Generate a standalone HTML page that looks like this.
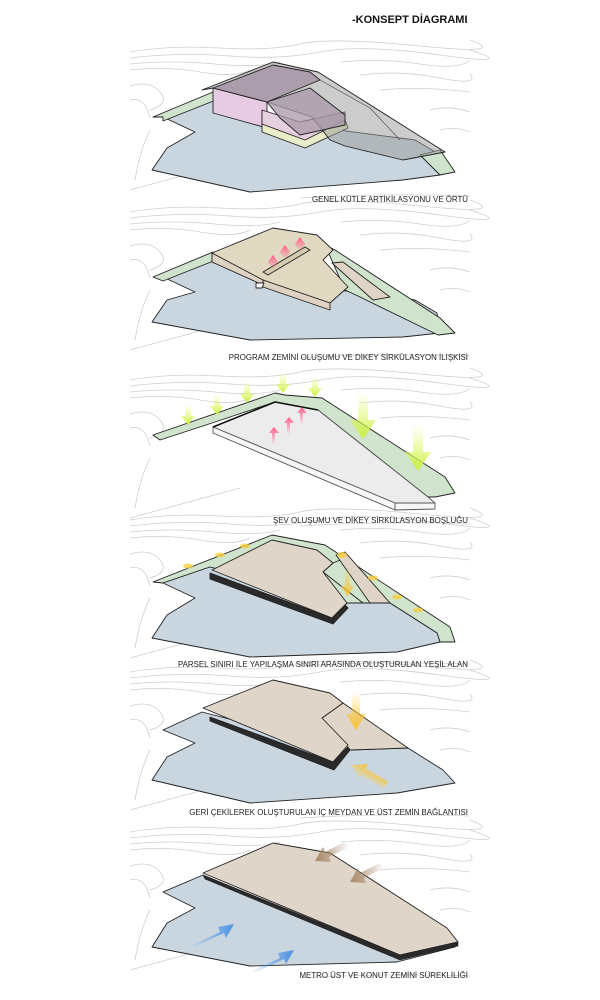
<!DOCTYPE html>
<html><head><meta charset="utf-8"><style>
html,body{margin:0;padding:0;background:#fff}
svg{display:block}
text{font-family:"Liberation Sans","DejaVu Sans",sans-serif;fill:#222}
</style></head><body>
<svg width="600" height="1000" viewBox="0 0 600 1000" xmlns="http://www.w3.org/2000/svg">
<defs>
<linearGradient id="gy" x1="0" y1="0" x2="0" y2="1"><stop offset="0" stop-color="#e8ff70" stop-opacity="0"/><stop offset="1" stop-color="#c8f040"/></linearGradient>
<linearGradient id="gp" x1="0" y1="1" x2="0" y2="0"><stop offset="0" stop-color="#ff6f95" stop-opacity="0"/><stop offset="1" stop-color="#ff5a85"/></linearGradient>
<linearGradient id="go" x1="0" y1="0" x2="0" y2="1"><stop offset="0" stop-color="#ffd040" stop-opacity="0"/><stop offset="1" stop-color="#f8c030"/></linearGradient>
<linearGradient id="gb" x1="0" y1="0" x2="1" y2="0"><stop offset="0" stop-color="#5aa0e8" stop-opacity="0"/><stop offset="1" stop-color="#4a90e2"/></linearGradient>
<linearGradient id="gr" x1="1" y1="0" x2="0" y2="0"><stop offset="0" stop-color="#a08060" stop-opacity="0"/><stop offset="1" stop-color="#a88a6a"/></linearGradient>
<g id="c" fill="none" stroke="#cfcfcf" stroke-width="0.8">
<path d="M130 52 Q170 45 220 48 T300 44 T420 46 T470 40"/>
<path d="M130 58 Q180 52 230 56 T320 52 T440 55 T470 50"/>
<path d="M130 64 Q170 60 215 64 T280 62"/>
<path d="M130 70 Q165 66 200 72 T250 70"/>
<path d="M340 62 Q380 58 420 64 T470 60"/>
<path d="M360 75 Q400 70 440 78 T470 74"/>
<path d="M380 90 Q420 86 470 92"/>
<path d="M130 86 Q150 80 160 92 T150 110"/>
<path d="M130 100 Q145 96 150 118"/>
<path d="M430 110 Q450 105 470 112"/>
<path d="M440 130 Q455 126 470 132"/>
<path d="M130 190 L240 160"/>
<path d="M135 180 Q140 150 150 130"/>
<path d="M300 198 Q380 193 470 196"/>
</g>
</defs>
<text x="352" y="23" font-size="11" font-weight="bold" style="fill:#111">-KONSEPT DİAGRAMI</text>

<use href="#c"/>
<use href="#c" transform="translate(0,160)"/>
<use href="#c" transform="translate(0,328)"/>
<use href="#c" transform="translate(0,468)"/>
<use href="#c" transform="translate(0,620)"/>
<use href="#c" transform="translate(0,780)"/>

<g stroke="#222" stroke-width="0.9" stroke-linejoin="round">
<!-- Panel 1 -->
<polygon points="163,117 213,97 300,125 415,140 437,153 440,175 403,180 250,192 152,170 167,148 195,132" fill="#c9d6df"/>
<polygon points="153,117 213,92 216,100 163,121 163,117" fill="#cfe3cd"/>
<polygon points="420,155 440,150 455,172 440,175" fill="#cfe3cd"/>
<polygon points="213,88 267,102 267,128 213,113" fill="#e6cbe3"/>
<polygon points="262,118 300,130 345,120 348,128 305,148 262,132" fill="#e9ecc8"/>
<polygon points="262,110 300,122 345,112 345,120 305,140 262,124" fill="#e6d0e0"/>
<polygon points="202,90 273,62 318,72 445,152 403,160 345,146 330,140 312,117 267,102 213,88" fill="#9a9a9a" fill-opacity="0.5"/>
<polygon points="213,88 273,65 310,72 320,80 267,102" fill="#a494a6" fill-opacity="0.85"/>
<polygon points="267,102 310,88 345,115 345,125 300,135 280,118" fill="#a898a8" fill-opacity="0.75"/>
<polyline points="320,80 370,108 400,140" fill="none" stroke="#444" stroke-width="0.6"/>

<!-- Panel 2 -->
<polygon points="163,277 213,257 300,285 415,300 437,313 440,333 403,337 250,340 152,322 167,300 195,292" fill="#c9d6df"/>
<polygon points="153,277 213,252 216,260 163,281" fill="#cfe3cd"/>
<polygon points="325,245 335,250 440,318 455,333 438,335 358,296 345,290" fill="#cfe3cd"/>
<polygon points="332,263 343,262 390,297 373,300" fill="#e0d4c6"/>
<polygon points="212,253 273,228 317,235 333,250 323,260 348,287 330,303 263,280 250,278 212,262" fill="#e0d8c0"/>
<polygon points="212,253 212,262 263,285 263,280" fill="#e0d2c2"/>
<polygon points="263,280 330,303 330,310 263,287" fill="#e0d2c2"/>
<polygon points="256,283 264,283 262,288 256,288" fill="#fff"/>
<polygon points="263,272 305,247 310,250 268,275" fill="#d4ccb0"/>
</g>
<g fill="url(#gp)">
<polygon points="273,270 268,262 273,255 278,262"/><polygon points="285,260 280,252 285,245 290,252"/><polygon points="300,252 295,244 300,237 305,244"/>
</g>

<g stroke="#222" stroke-width="0.9" stroke-linejoin="round">
<!-- Panel 3 -->
<polygon points="153,435 275,393 285,395 322,398 445,477 455,493 435,497 428,497 318,410 275,402 212,423 160,440" fill="#cfe3cd"/>
<polygon points="213,427 275,402 318,410 428,497 435,503 395,503" fill="#ececec" stroke="#555"/>
<polygon points="213,427 395,503 395,510 213,433" fill="#f6f6f6" stroke="#555"/>
<polygon points="395,503 435,503 435,509 395,510" fill="#f6f6f6" stroke="#555"/>
<polyline points="213,427 275,402 318,410" fill="none" stroke="#111" stroke-width="1.6"/>
</g>
<g fill="url(#gy)">
<path d="M185 404h6v12h4l-7 9-7-9h4z"/><path d="M214 394h6v12h4l-7 9-7-9h4z"/><path d="M244 380h6v14h4l-7 9-7-9h4z"/>
<path d="M280 372h6v12h4l-7 9-7-9h4z"/><path d="M312 376h6v12h4l-7 9-7-9h4z"/>
<path d="M358 392h10v28h8l-13 19-13-19h8z"/><path d="M413 424h10v28h8l-13 19-13-19h8z"/>
</g>
<g fill="url(#gp)">
<path d="M272 445h3v-12h4l-5-6-5 6h3z"/><path d="M287 435h3v-12h4l-5-6-5 6h3z"/><path d="M300 425h3v-12h4l-5-6-5 6h3z"/>
</g>

<g stroke="#222" stroke-width="0.9" stroke-linejoin="round">
<!-- Panel 4 -->
<polygon points="153,582 272,535 325,545 450,627 455,642 440,642 437,633 390,603 347,603 210,567 163,583" fill="#cfe3cd"/>
<polygon points="163,583 210,567 347,603 390,603 437,633 440,642 397,652 250,657 152,638 167,615 195,598" fill="#c9d6df"/>
<polygon points="333,563 345,558 390,603 363,603 323,572" fill="#cfe3cd"/>
<polygon points="336,555 345,552 390,603 370,603" fill="#e0d4c6"/>
<polygon points="212,570 272,540 317,550 333,563 323,572 347,603 332,618" fill="#e0d5c9"/>
<polygon points="210,573 332,618 345,605 348,608 333,624 210,579" fill="#2a2a2a"/>
</g>
<g fill="#f8d040" opacity="0.8">
<ellipse cx="188" cy="566" rx="5" ry="2.5"/><ellipse cx="220" cy="555" rx="5" ry="2.5"/><ellipse cx="245" cy="546" rx="5" ry="2.5"/>
<ellipse cx="342" cy="555" rx="5" ry="3"/><ellipse cx="373" cy="578" rx="5" ry="2.5"/><ellipse cx="397" cy="597" rx="5" ry="2.5"/><ellipse cx="418" cy="610" rx="5" ry="2.5"/>
</g>
<path d="M345 568h5v18h4l-6.5 10-6.5-10h4z" fill="url(#go)"/>

<g stroke="#222" stroke-width="0.9" stroke-linejoin="round">
<!-- Panel 5 -->
<polygon points="163,730 202,712 350,750 408,748 443,770 455,783 397,793 250,803 152,780 167,757 195,743" fill="#c9d6df"/>
<polygon points="343,703 408,748 350,750 322,718" fill="#e0d5c9"/>
<polygon points="203,708 273,680 330,693 343,703 322,718 348,745 333,762" fill="#e0d5c9"/>
<polygon points="210,717 333,762 348,747 350,750 334,770 210,721" fill="#2a2a2a"/>
</g>
<path d="M352 692h8v22h6l-10 16-10-16h6z" fill="url(#go)"/>
<path d="M0 -4h26v-5l14 9-14 9v-5h-26z" fill="url(#go)" transform="translate(386,785) rotate(-150)"/>

<g stroke="#222" stroke-width="0.9" stroke-linejoin="round">
<!-- Panel 6 -->
<polygon points="163,892 203,875 400,957 455,947 397,962 250,966 152,947 167,923 195,908" fill="#c9d6df"/>
<polygon points="203,873 273,843 330,853 447,928 458,942 400,955" fill="#e0d5c9"/>
<polygon points="203,875 400,955 458,942 458,946 400,960 205,879" fill="#2a2a2a" stroke-width="0.6"/>
</g>
<g fill="url(#gr)">
<path d="M345 842l-20 10-2-5-8 14 16 1-2-5 20-10z"/>
<path d="M380 863l-20 10-2-5-8 14 16 1-2-5 20-10z"/>
</g>
<g fill="url(#gb)">
<path d="M190 946l30-14 -2-5 16-3-8 14-2-5-30 14z"/>
<path d="M250 972l30-14 -2-5 16-3-8 14-2-5-30 14z"/>
</g>

<g font-size="7.9" text-anchor="end">
<text x="468" y="202">GENEL KÜTLE ARTİKİLASYONU VE ÖRTÜ</text>
<text x="468" y="360">PROGRAM ZEMİNİ OLUŞUMU VE DİKEY SİRKÜLASYON İLİŞKİSİ</text>
<text x="468" y="523">ŞEV OLUŞUMU VE DİKEY SİRKÜLASYON BOŞLUĞU</text>
<text x="468" y="667">PARSEL SINIRI İLE YAPILAŞMA SINIRI ARASINDA OLUŞTURULAN YEŞİL ALAN</text>
<text x="468" y="815">GERİ ÇEKİLEREK OLUŞTURULAN İÇ MEYDAN VE ÜST ZEMİN BAĞLANTISI</text>
<text x="468" y="978">METRO ÜST  VE KONUT ZEMİNİ SÜREKLİLİĞİ</text>
</g>
</svg>
</body></html>
